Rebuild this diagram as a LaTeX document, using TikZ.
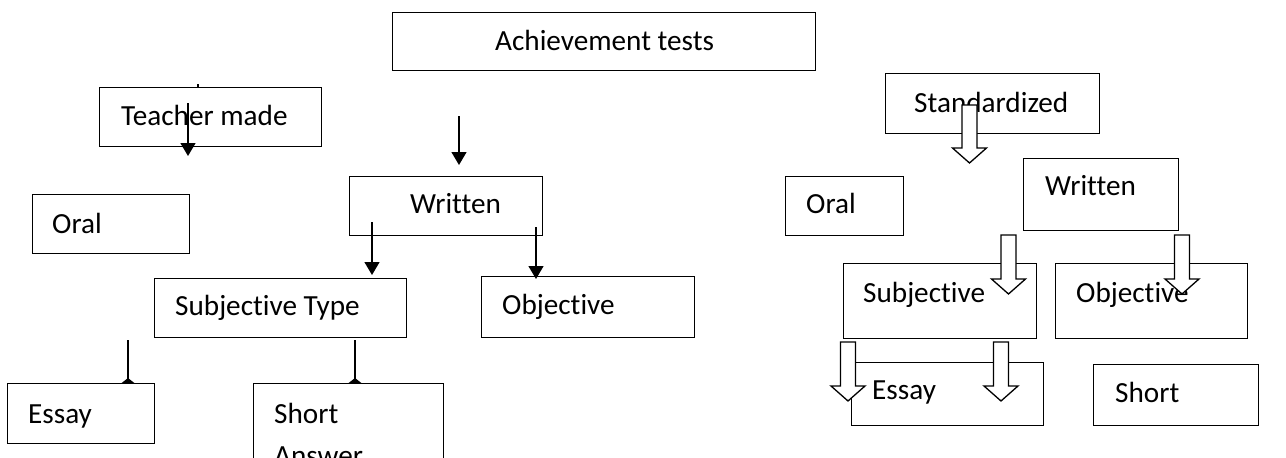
\documentclass[tikz,border=0pt]{standalone}
\usepackage{fontspec}
\setmainfont[Ligatures=NoCommon]{Carlito}
\usetikzlibrary{arrows.meta}
\newcommand\mkbox[5]{\node[box, anchor=north west, minimum width={(#4-#2)*1pt}, minimum height={(#5-#3)*1pt}] (#1) at (#2,#3) {};}
\newcommand\hollowarr[4]{\draw[harr] (#1-7.5,#2) -- (#1+7.5,#2) -- (#1+7.5,#3) -- (#1+17,#3) -- (#1,#4) -- (#1-17,#3) -- (#1-7.5,#3) -- cycle;}
\begin{document}
\begin{tikzpicture}[x=1pt,y=-1pt,
  box/.style={draw=black, fill=white, line width=1.3pt, inner sep=0pt},
  lbl/.style={anchor=base west, inner sep=0pt, font=\fontsize{29.2}{35}\selectfont},
  arr/.style={line width=1.3pt, -{Triangle[length=13pt,width=15pt]}},
  stub/.style={line width=1.3pt, -{Triangle[reversed,length=6pt,width=15pt]}},
  harr/.style={draw=black, fill=white, line width=1.3pt, line join=miter}]
\useasboundingbox (0,0) rectangle (1286,458);
\clip (0,0) rectangle (1286,458);
% free ends of connectors
\coordinate (eA) at (128,340); \coordinate (eB) at (128,384);
\coordinate (sA) at (355,340); \coordinate (sB) at (355,384);
\draw[stub] (eA) -- (eB);
\draw[stub] (sA) -- (sB);
% boxes
\mkbox{ach}{392}{12}{815}{70}
\mkbox{tm}{99}{87}{321}{146}
\mkbox{wr}{349}{176}{542}{235}
\mkbox{oralL}{32}{194}{189}{253}
\mkbox{subL}{154}{278}{406}{337}
\mkbox{objL}{481}{276}{694}{337}
\mkbox{essL}{7}{383}{154}{443}
\mkbox{shL}{253}{383}{443}{475}
\mkbox{std}{885}{73}{1099}{133}
\mkbox{oralR}{785}{176}{903}{235}
\mkbox{wrR}{1023}{158}{1178}{230}
\mkbox{subR}{843}{263}{1036}{338}
\mkbox{objR}{1055}{263}{1247}{338}
\mkbox{essR}{851}{362}{1043}{425}
\mkbox{shR}{1093}{364}{1258}{425}
% labels
\node[lbl] (achT) at (495,50) {Achievement tests};
\node[lbl] (tmT) at (121,125) {Teacher made};
\node[lbl] (wrT) at (410,213) {Written};
\node[lbl] (oralLT) at (52,233) {Oral};
\node[lbl] (subLT) at (175,315) {Subjective Type};
\node[lbl] (objLT) at (502,314) {Objective};
\node[lbl] (essLT) at (28,423) {Essay};
\node[lbl] (shLT) at (274,423) {Short};
\node[lbl] (shLT2) at (274,465) {Answer};
\node[lbl] (stdT) at (914,112) {Standardized};
\node[lbl] (wrRT) at (1045,195) {Written};
\node[lbl] (oralRT) at (806,213) {Oral};
\node[lbl] (subRT) at (863,302) {Subjective};
\node[lbl] (objRT) at (1076,302) {Objective};
\node[lbl] (essRT) at (872,399) {Essay};
\node[lbl] (shRT) at (1115,402) {Short};
% solid arrows
\coordinate (tmA) at (188,103); \coordinate (tmB) at (188,156);
\coordinate (wA) at (459,116); \coordinate (wB) at (459,165);
\coordinate (wlA) at (372,222); \coordinate (wlB) at (372,275);
\coordinate (wrA) at (536,227); \coordinate (wrB) at (536,279);
\coordinate (tkA) at (198,84); \coordinate (tkB) at (198,88);
\draw[arr] (tmA) -- (tmB);
\draw[arr] (wA) -- (wB);
\draw[arr] (wlA) -- (wlB);
\draw[arr] (wrA) -- (wrB);
\draw[line width=1.3pt] (tkA) -- (tkB);
% hollow block arrows
\hollowarr{969.5}{105}{148}{163}
\hollowarr{1008.5}{235}{279}{294}
\hollowarr{1182}{235}{279}{294}
\hollowarr{848}{342}{386}{401}
\hollowarr{1001}{342}{386}{401}
\end{tikzpicture}
\end{document}
